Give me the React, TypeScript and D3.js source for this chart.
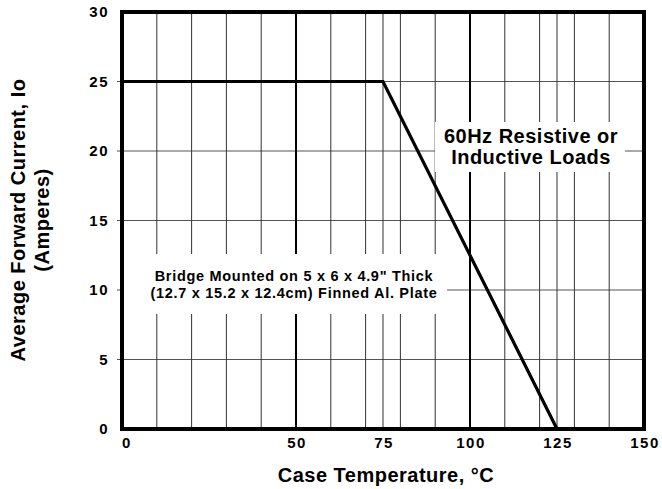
import * as d3 from 'd3';

// Derating curve: case temperature (°C) vs average forward current (A)
const curveTemp = [0, 75, 125];
const curveCurrent = [25, 25, 0];

const xTickLabels = [0, 50, 75, 100, 125, 150];
const yTickLabels = [0, 5, 10, 15, 20, 25, 30];
const xGrid = [0, 10, 20, 30, 40, 50, 60, 70, 75, 80, 90, 100, 110, 120, 125, 130, 140, 150];
const yGrid = [5, 10, 15, 20, 25];
const xMajor = [50, 100];

const noteLoads = ['60Hz Resistive or', 'Inductive Loads'];
const noteMount = ['Bridge Mounted on 5 x 6 x 4.9" Thick', '(12.7 x 15.2 x 12.4cm) Finned Al. Plate'];

const FONT = 'Arial, "Liberation Sans", Helvetica, sans-serif';

export default function App() {
    const width = 662;
    const height = 489;
    const margin = { top: 12, right: 18, bottom: 60, left: 122 };

    const x = d3.scaleLinear().domain([0, 150]).range([margin.left, width - margin.right]);
    const y = d3.scaleLinear().domain([0, 30]).range([height - margin.bottom, margin.top]);

    const line = d3.line<number>()
        .x((d) => x(d))
        .y((_, i) => y(curveCurrent[i]));

    return (
        <svg width={width} height={height} style={{ position: 'absolute', left: 0, top: 0, background: '#fff' }} fontFamily={FONT}>
            {/* horizontal grid */}
            {yGrid.map((v) => (
                <line key={'h' + v} x1={x(0) - 5} x2={x(150)} y1={y(v)} y2={y(v)} stroke="#555" strokeWidth={1} />
            ))}
            {/* vertical grid */}
            {xGrid.map((v) => (
                <line key={'v' + v} x1={x(v)} x2={x(v)} y1={y(0)} y2={y(30)}
                    stroke={xMajor.includes(v) ? '#000' : '#333'}
                    strokeWidth={xMajor.includes(v) ? 2 : 1} />
            ))}

            {/* white boxes behind notes */}
            <rect x={x(0) + 1} y={254} width={447 - x(0) - 1} height={60} fill="#fff" />
            <rect x={435} y={122} width={190} height={50} fill="#fff" />

            {/* derating curve */}
            <path d={line(curveTemp) || ''} fill="none" stroke="#000" strokeWidth={3.2} strokeLinejoin="miter" />

            {/* frame */}
            <rect x={x(0)} y={y(30)} width={x(150) - x(0)} height={y(0) - y(30)} fill="none" stroke="#000" strokeWidth={4} />

            {/* notes */}
            {noteLoads.map((t, i) => (
                <text key={t} x={531} y={143 + i * 21} textAnchor="middle" fontSize={20} fontWeight="bold" letterSpacing={0.5}>{t}</text>
            ))}
            {noteMount.map((t, i) => (
                <text key={t} x={294} y={281 + i * 17} textAnchor="middle" fontSize={14.5} fontWeight="bold" letterSpacing={0.7}>{t}</text>
            ))}

            {/* y tick labels */}
            {yTickLabels.map((v) => (
                <text key={'yl' + v} x={109} y={y(v) + 5} textAnchor="end" fontSize={15} fontWeight="bold" letterSpacing={1.5}>{v}</text>
            ))}
            {/* x tick labels */}
            {xTickLabels.map((v) => (
                <text key={'xl' + v} x={x(v) + (v === 0 ? 5 : 1)} y={448} textAnchor="middle" fontSize={15} fontWeight="bold" letterSpacing={1.5}>{v}</text>
            ))}

            {/* axis titles */}
            <text x={386} y={482} textAnchor="middle" fontSize={20} fontWeight="bold" letterSpacing={0.5}>Case  Temperature, °C</text>
            <g transform={`translate(25, ${220}) rotate(-90)`}>
                <text x={0} y={0} textAnchor="middle" fontSize={20} fontWeight="bold" letterSpacing={0.5}>Average Forward Current, Io</text>
                <text x={0} y={24} textAnchor="middle" fontSize={20} fontWeight="bold" letterSpacing={0.5}>(Amperes)</text>
            </g>
        </svg>
    );
}
